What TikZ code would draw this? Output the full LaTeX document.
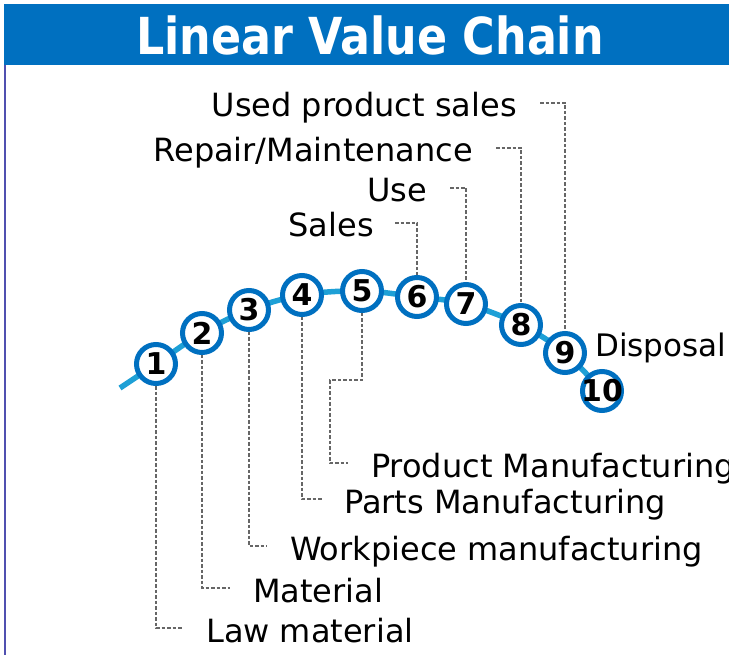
\documentclass[tikz,border=0pt]{standalone}
\usepackage{fontspec}
\setmainfont{DejaVu Sans}
\usetikzlibrary{backgrounds}
\definecolor{ringblue}{RGB}{0,112,192}
\definecolor{chainblue}{RGB}{30,160,214}
\definecolor{framebar}{RGB}{80,80,176}
\begin{document}
\begin{tikzpicture}[x=1pt,y=-1pt,
	stepnode/.style={circle,draw=ringblue,fill=white,line width=5pt,minimum size=39pt,inner sep=0pt},
	num/.style={font=\bfseries\fontsize{30}{30}\selectfont,inner sep=0pt},
	lbl/.style={inner sep=0pt,text height=28pt,text depth=0pt,font=\fontsize{32}{36}\selectfont},
	lead/.style={gray!80!black,line width=1.2pt,dash pattern=on 3.5pt off 2pt}]
	\useasboundingbox (0,0) rectangle (729,655);
	\fill[ringblue] (4,4) rectangle (729,65);
	\node[text=white,font=\bfseries\fontsize{51}{51}\selectfont] (title) at (370,35) {\scalebox{0.87}[1]{Linear Value Chain}};
	\draw[framebar,line width=2pt] (5,65) -- (5,655);
	% Các bước của chuỗi
	\node[stepnode,label={[num]center:1}] (n1) at (156,364) {};
	\node[stepnode,label={[num]center:2}] (n2) at (202,333) {};
	\node[stepnode,label={[num]center:3}] (n3) at (249,310) {};
	\node[stepnode,label={[num]center:4}] (n4) at (302,295) {};
	\node[stepnode,label={[num]center:5}] (n5) at (362,291) {};
	\node[stepnode,label={[num]center:6}] (n6) at (417,297) {};
	\node[stepnode,label={[num]center:7}] (n7) at (466,304) {};
	\node[stepnode,label={[num]center:8}] (n8) at (521,325) {};
	\node[stepnode,label={[num]center:9}] (n9) at (565,353) {};
	\node[stepnode,label={[num]center:10}] (n10) at (602,391) {};
	\coordinate (s) at (120,388);
	\begin{scope}[on background layer]
		\draw[chainblue,line width=5.5pt] plot[smooth,tension=0.6] coordinates {(s) (n1.center) (n2.center) (n3.center) (n4.center) (n5.center) (n6.center) (n7.center) (n8.center) (n9.center) (n10.center)};
	\end{scope}
	% Nhãn phía trên
	\node[lbl,anchor=east] (used) at (517,103) {Used product sales};
	\node[lbl,anchor=east] (repair) at (473,148) {Repair/Maintenance};
	\node[lbl,anchor=east] (use) at (427,188) {Use};
	\node[lbl,anchor=east] (sales) at (374,223) {Sales};
	\node[lbl,anchor=west,font=\fontsize{31}{36}\selectfont] (disposal) at (595,342) {Disposal};
	\draw[lead] ([xshift=23pt]used.east) -| (n9.north);
	\draw[lead] ([xshift=23pt]repair.east) -| (n8.north);
	\draw[lead] ([xshift=23pt]use.east) -| (n7.north);
	\draw[lead] ([xshift=21pt]sales.east) -| (n6.north);
	% Nhãn phía dưới
	\node[lbl,anchor=west] (product) at (371,463) {Product Manufacturing};
	\node[lbl,anchor=west] (parts) at (344,499) {Parts Manufacturing};
	\node[lbl,anchor=west] (work) at (290,546) {Workpiece manufacturing};
	\node[lbl,anchor=west] (material) at (253,588) {Material};
	\node[lbl,anchor=west] (law) at (206,628) {Law material};
	\coordinate (k5) at (330,380);
	\draw[lead] (n5.south) |- (k5) |- ([xshift=-23pt]product.west);
	\draw[lead] (n4.south) |- ([xshift=-22pt]parts.west);
	\draw[lead] (n3.south) |- ([xshift=-23pt]work.west);
	\draw[lead] (n2.south) |- ([xshift=-23pt]material.west);
	\draw[lead] (n1.south) |- ([xshift=-23pt]law.west);
\end{tikzpicture}
\end{document}
